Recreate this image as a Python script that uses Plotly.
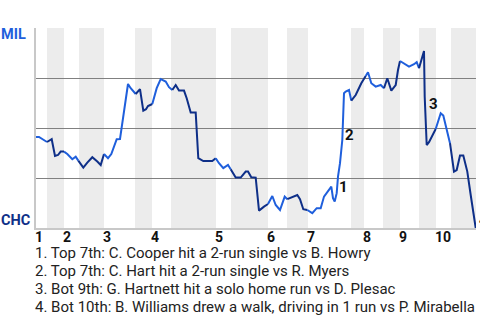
import plotly.graph_objects as go

# Game progress (plate-appearance scale, 0..440) and MIL win probability (%)
progress = [0, 3, 11, 15.7, 19, 22, 24.7, 28, 31.3, 36.3, 39.7, 42.3, 47.3, 51.3, 56.3, 61.3, 64.7, 68,
            72, 75.3, 80.7, 84, 85.3, 88.7, 92, 94.7, 99.7, 104, 107.3, 110, 112, 116.3, 120.7, 124.7,
            129.7, 133, 136.3, 139.7, 143, 148, 150.7, 154.7, 159.7, 162.3, 167.3, 176.3, 179.7, 183,
            187.3, 192, 194.7, 199.7, 204.7, 209.7, 212, 215.3, 219.7, 223, 228, 232, 236.3, 239.7, 244,
            248.7, 251.3, 256.3, 261.3, 264, 267.3, 271.3, 276.3, 280.7, 284.7, 288, 292, 295.3, 297,
            298.7, 300.7, 302, 304, 306.3, 308, 309.7, 313, 315.3, 319.7, 325.3, 329.7, 332, 335.3,
            339.7, 344.7, 348, 351.3, 355.3, 359.7, 362, 364, 367.3, 373, 378, 380.7, 383, 385.3, 388,
            388.7, 390.7, 393, 396.3, 399.7, 402, 404.7, 407.3, 410.7, 414, 418, 420.7, 424, 427.3,
            431.3, 434.7, 437.3, 439.7]
mil_wp = [45.5, 45.5, 43, 44.4, 36, 36.5, 38.2, 38.2, 37, 34.4, 35.7, 33.7, 30.2, 32.7, 35.4, 33.2, 31.5, 37,
          34.9, 37, 44.4, 44.5, 49, 62.4, 72, 69.9, 67, 69.4, 58.7, 59.4, 61, 62, 69.9, 74.4,
          73.2, 70.4, 69, 71.5, 68.7, 68.7, 64.9, 57.7, 57.7, 34.9, 33.5, 33.5, 34.9, 32.4,
          29.9, 31.5, 29.4, 25.2, 25.2, 28.2, 28.2, 25.4, 25.2, 8.7, 10.7, 12, 16, 11.5, 9,
          15.7, 14.4, 15.4, 16.5, 14.4, 9.4, 9, 7.4, 9.9, 9.9, 15.7, 18.2, 20.7, 14.9,
          13.2, 17.4, 25.7, 32.4, 44, 67.4, 68.2, 69, 63.7, 66.5, 72.4, 76, 77.9, 72.4,
          70.7, 71.5, 69.9, 74.9, 68.7, 71.5, 79, 83.5, 82.4, 80.7, 81.9, 82.9, 79.9, 84,
          88.5, 65.7, 41.5, 42.9, 46.5, 49.5, 53.2, 57.4, 56.2, 49, 42.4, 28.2, 29,
          36.2, 36.2, 28.2, 16.5, 8.2, 0]

# Bottom-half-inning spans (CHC batting) and inning start positions
bottom_halves = [(11, 28), (43, 68), (99, 116), (135, 180), (195, 232), (251, 272),
                 (315, 328), (347, 364), (383, 400), (415, 440)]
inning_starts = [0, 28, 68, 116, 180, 232, 272, 328, 364, 400]
inning_labels = ["1", "2", "3", "4", "5", "6", "7", "8", "9", "10"]

# Key events
event_ids = ["1", "2", "3", "4"]
event_x = [302, 308, 392, 439.5]
event_y = [20.5, 46.5, 62, 4]
event_notes = [
    "1. Top 7th: C. Cooper hit a 2-run single vs B. Howry",
    "2. Top 7th: C. Hart hit a 2-run single vs R. Myers",
    "3. Bot 9th: G. Hartnett hit a solo home run vs D. Plesac",
    "4. Bot 10th: B. Williams drew a walk, driving in 1 run vs P. Mirabella",
]

MIL_BLUE = "#1f5fdc"
CHC_NAVY = "#0e2f88"
FONT = "Roboto"

fig = go.Figure()


def is_bottom(x):
    return any(a <= x < b for a, b in bottom_halves)


# group consecutive segments by batting team
groups = []
for i in range(len(progress) - 1):
    mid = (progress[i] + progress[i + 1]) / 2
    col = CHC_NAVY if is_bottom(mid) else MIL_BLUE
    if groups and groups[-1][0] == col:
        groups[-1][1].append(i + 1)
    else:
        groups.append([col, [i, i + 1]])

for col, idx in groups:
    fig.add_trace(go.Scatter(
        x=[progress[k] for k in idx], y=[mil_wp[k] for k in idx],
        mode="lines", line=dict(color=col, width=2), hoverinfo="skip", showlegend=False,
        cliponaxis=False,
    ))

for a, b in bottom_halves:
    fig.add_shape(type="rect", xref="x", yref="y", x0=a, x1=b, y0=0, y1=100,
                  fillcolor="#ececec", line=dict(width=0), layer="below")

for xs, lab in zip(inning_starts, inning_labels):
    fig.add_annotation(x=xs, y=0, xref="x", yref="y", text="<b>%s</b>" % lab, showarrow=False,
                       xanchor="left", yanchor="top", yshift=0, xshift=-2, borderpad=0,
                       font=dict(family=FONT, size=14, color="#111"))

for lab, ex, ey in zip(event_ids, event_x, event_y):
    fig.add_annotation(x=ex, y=ey, xref="x", yref="y", text="<b>%s</b>" % lab, showarrow=False,
                       xanchor="left", yanchor="middle", borderpad=0,
                       xshift=2 if lab == "4" else 0,
                       font=dict(family=FONT, size=15, color="#111"))

for i, note in enumerate(event_notes):
    fig.add_annotation(x=0, y=0, xref="paper", yref="paper", text=note, showarrow=False,
                       xanchor="left", yanchor="middle", yshift=-25 - 18 * i, xshift=-2,
                       borderpad=0,
                       font=dict(family=FONT, size=15, color="#222"))

fig.add_annotation(x=0, y=1, xref="paper", yref="paper", text="<b>MIL</b>", showarrow=False,
                   xanchor="left", yanchor="middle", xshift=-36, yshift=-6, borderpad=0,
                   font=dict(family=FONT, size=14.5, color=MIL_BLUE))
fig.add_annotation(x=0, y=0, xref="paper", yref="paper", text="<b>CHC</b>", showarrow=False,
                   xanchor="left", yanchor="middle", xshift=-36, yshift=8, borderpad=0,
                   font=dict(family=FONT, size=14.5, color=CHC_NAVY))

fig.update_xaxes(range=[0, 440], showgrid=False, zeroline=False, showticklabels=False,
                 showline=True, linecolor="#c8c8c8", linewidth=2, ticks="")
fig.update_yaxes(range=[0, 100], tickvals=[25, 50, 75, 100], showgrid=True, gridcolor="#808080",
                 gridwidth=1, zeroline=False, showticklabels=False,
                 showline=True, linecolor="#c8c8c8", linewidth=2, ticks="")

fig.update_layout(
    width=480, height=320,
    margin=dict(l=36, r=4, t=28, b=92),
    paper_bgcolor="white", plot_bgcolor="white",
    font=dict(family=FONT),
)

fig.write_html("out.html", include_plotlyjs=True)
